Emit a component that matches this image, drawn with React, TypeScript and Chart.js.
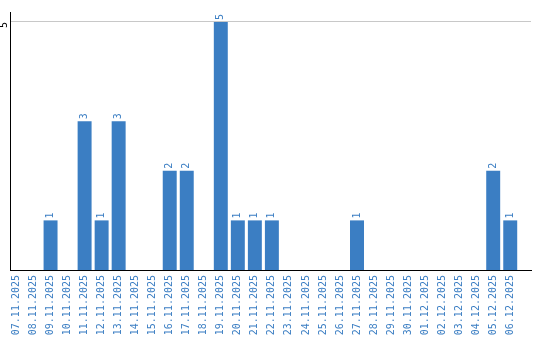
import React, { useEffect, useRef } from "react";
import { Chart, registerables } from "chart.js";

Chart.register(...registerables);

const categories: string[] = [
  "07.11.2025", "08.11.2025", "09.11.2025", "10.11.2025", "11.11.2025",
  "12.11.2025", "13.11.2025", "14.11.2025", "15.11.2025", "16.11.2025",
  "17.11.2025", "18.11.2025", "19.11.2025", "20.11.2025", "21.11.2025",
  "22.11.2025", "23.11.2025", "24.11.2025", "25.11.2025", "26.11.2025",
  "27.11.2025", "28.11.2025", "29.11.2025", "30.11.2025", "01.12.2025",
  "02.12.2025", "03.12.2025", "04.12.2025", "05.12.2025", "06.12.2025",
];

const counts: number[] = [
  0, 0, 1, 0, 3,
  1, 3, 0, 0, 2,
  2, 0, 5, 1, 1,
  1, 0, 0, 0, 0,
  1, 0, 0, 0, 0,
  0, 0, 0, 2, 1,
];

const yTickValues: number[] = [5];

const BLUE = "#3b7ec3";
const FONT = "DejaVu Sans Mono";

const valueLabels = {
  id: "valueLabels",
  afterDatasetsDraw(chart: any) {
    const ctx = chart.ctx;
    const meta = chart.getDatasetMeta(0);
    ctx.save();
    ctx.fillStyle = BLUE;
    ctx.font = `10px "${FONT}"`;
    ctx.textAlign = "left";
    ctx.textBaseline = "middle";
    meta.data.forEach((bar: any, i: number) => {
      const v = counts[i];
      if (!v) return;
      ctx.save();
      ctx.translate(bar.x, bar.y - 2);
      ctx.rotate(-Math.PI / 2);
      ctx.fillText(String(v), 0, 0);
      ctx.restore();
    });
    ctx.restore();
  },
};

export default function App() {
  const ref = useRef<HTMLCanvasElement | null>(null);

  useEffect(() => {
    if (!ref.current) return;
    const chart = new Chart(ref.current, {
      type: "bar",
      data: {
        datasets: [
          {
            data: counts.map((v, i) => ({ x: i, y: v })),
            backgroundColor: BLUE,
            borderWidth: 0,
            categoryPercentage: 1,
            barPercentage: 0.82,
          },
        ],
      },
      options: {
        animation: false,
        responsive: false,
        maintainAspectRatio: false,
        layout: { padding: { left: 0, right: 9, top: 10, bottom: 0 } },
        plugins: {
          legend: { display: false },
          tooltip: { enabled: false },
        },
        scales: {
          x: {
            type: "linear",
            min: -0.382,
            max: 30.22,
            offset: false,
            bounds: "data",
            grid: { display: false, drawTicks: false, offset: false },
            border: { display: true, color: "#000", width: 1 },
            afterBuildTicks: (scale: any) => {
              scale.ticks = categories.map((_, i) => ({ value: i }));
            },
            afterFit: (scale: any) => {
              scale.height = 70;
            },
            ticks: {
              autoSkip: false,
              minRotation: 90,
              maxRotation: 90,
              padding: 5,
              color: BLUE,
              font: { family: FONT, size: 10 },
              callback: (value: any) => categories[value as number] ?? "",
            },
          },
          y: {
            min: 0,
            max: 5.2,
            grid: { color: "#c8c8c8", lineWidth: 1, drawTicks: false },
            border: { display: true, color: "#000", width: 1 },
            afterBuildTicks: (scale: any) => {
              scale.ticks = yTickValues.map((v) => ({ value: v }));
            },
            afterFit: (scale: any) => {
              scale.width = 10;
            },
            ticks: {
              minRotation: 90,
              maxRotation: 90,
              padding: 6,
              color: "#000",
              font: { family: FONT, size: 10 },
            },
          },
        },
      },
      plugins: [valueLabels],
    });
    return () => chart.destroy();
  }, []);

  return (
    <div style={{ position: "fixed", left: 0, top: 0, width: 540, height: 340, background: "#fff" }}>
      <canvas ref={ref} width={540} height={340} style={{ display: "block" }} />
    </div>
  );
}
